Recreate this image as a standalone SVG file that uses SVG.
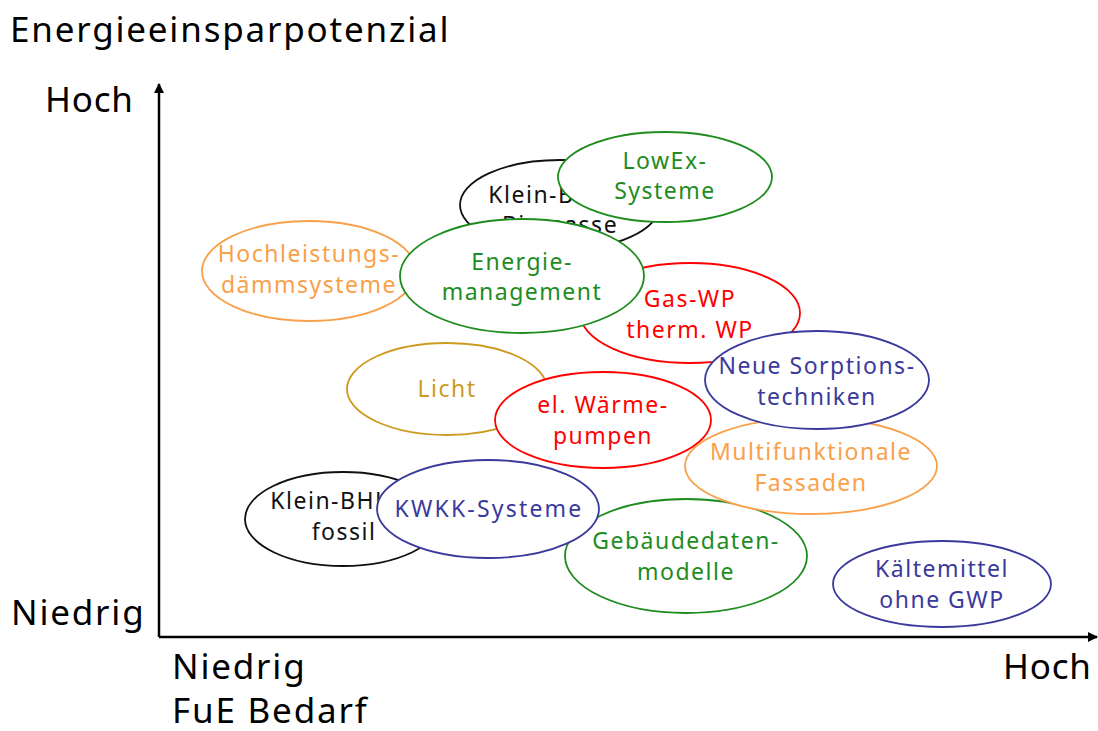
<svg xmlns="http://www.w3.org/2000/svg" width="1098" height="731" viewBox="0 0 1098 731">
<style>
text{font-family:"Noto Sans","Open Sans","DejaVu Sans",sans-serif;}
.ax{font-size:35px;fill:#000;letter-spacing:1.8px;}
.n text{font-size:23px;text-anchor:middle;letter-spacing:1.5px;}
.n ellipse{fill:#fff;stroke-width:1.8;}
.k ellipse{stroke:#111;} .k text{fill:#111;}
.g ellipse{stroke:#1E8C1E;} .g text{fill:#1E8C1E;}
.r ellipse{stroke:#FF0000;} .r text{fill:#FF0000;}
.o ellipse{stroke:#F9A04A;} .o text{fill:#F9A04A;}
.y ellipse{stroke:#CC9A1E;} .y text{fill:#CC9A1E;}
.b ellipse{stroke:#3A3A9C;} .b text{fill:#3A3A9C;}
.axis{stroke:#000;stroke-width:2.5;fill:none;}
</style>
<defs>
<marker id="arr" viewBox="0 0 10 10" refX="9" refY="5" markerWidth="4" markerHeight="4" orient="auto" markerUnits="strokeWidth">
<path d="M0,0 L10,5 L0,10 z" fill="#000"/>
</marker>
</defs>
<text class="ax" x="10" y="42">Energieeinsparpotenzial</text>
<text class="ax" x="45" y="112" style="letter-spacing:0.8px">Hoch</text>
<text class="ax" x="11" y="625">Niedrig</text>
<text class="ax" x="172" y="679">Niedrig</text>
<text class="ax" x="172" y="723">FuE Bedarf</text>
<text class="ax" x="1003" y="679" style="letter-spacing:0.8px">Hoch</text>
<g id="connectors">
<line class="axis" x1="159" y1="637" x2="159" y2="84" marker-end="url(#arr)"/>
<line class="axis" x1="159" y1="637" x2="1097" y2="637" marker-end="url(#arr)"/>
</g>
<g id="klein-bhkw-biomasse" class="n k"><ellipse cx="560" cy="205" rx="100" ry="45"/><text x="560" y="203">Klein-BHKW</text><text x="560" y="233">Biomasse</text></g>
<g id="lowex" class="n g"><ellipse cx="665" cy="177" rx="107" ry="45"/><text x="665" y="169">LowEx-</text><text x="665" y="199">Systeme</text></g>
<g id="hochleistung" class="n o"><ellipse cx="309" cy="271" rx="107" ry="50"/><text x="309" y="262">Hochleistungs-</text><text x="309" y="293">dämmsysteme</text></g>
<g id="gaswp" class="n r"><ellipse cx="690" cy="313" rx="110" ry="50"/><text x="690" y="307">Gas-WP</text><text x="690" y="338">therm. WP</text></g>
<g id="energiemanagement" class="n g"><ellipse cx="522" cy="276" rx="122" ry="57"/><text x="522" y="270">Energie-</text><text x="522" y="300">management</text></g>
<g id="licht" class="n y"><ellipse cx="447" cy="389" rx="100" ry="46"/><text x="447" y="397">Licht</text></g>
<g id="el-waermepumpen" class="n r"><ellipse cx="603" cy="420" rx="108" ry="48"/><text x="603" y="413">el. Wärme-</text><text x="603" y="444">pumpen</text></g>
<g id="gebaeudedatenmodelle" class="n g"><ellipse cx="686" cy="556" rx="121" ry="57"/><text x="686" y="549">Gebäudedaten-</text><text x="686" y="580">modelle</text></g>
<g id="multifunktionale-fassaden" class="n o"><ellipse cx="811" cy="466" rx="126" ry="48"/><text x="811" y="460">Multifunktionale</text><text x="811" y="491">Fassaden</text></g>
<g id="neue-sorptionstechniken" class="n b"><ellipse cx="817" cy="380" rx="112" ry="49"/><text x="817" y="374">Neue Sorptions-</text><text x="817" y="405">techniken</text></g>
<g id="klein-bhkw-fossil" class="n k"><ellipse cx="343" cy="519" rx="98" ry="47"/><text x="342" y="509">Klein-BHKW</text><text x="344" y="540">fossil</text></g>
<g id="kwkk" class="n b"><ellipse cx="488" cy="509" rx="111" ry="49"/><text x="489" y="517" style="letter-spacing:2.2px">KWKK-Systeme</text></g>
<g id="kaeltemittel" class="n b"><ellipse cx="942" cy="584" rx="109" ry="43"/><text x="942" y="577">Kältemittel</text><text x="942" y="608">ohne GWP</text></g>
</svg>
